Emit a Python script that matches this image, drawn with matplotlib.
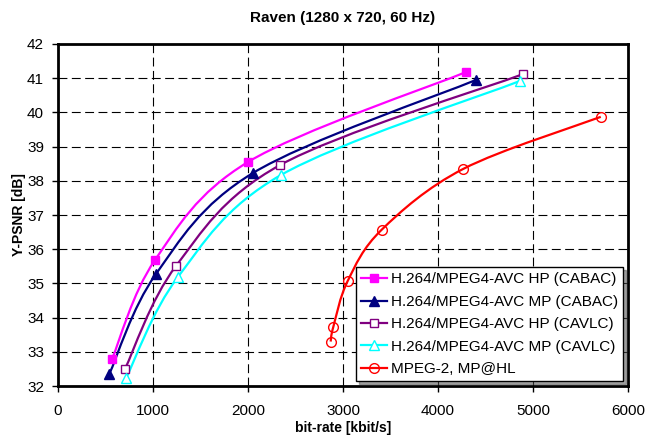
import matplotlib
matplotlib.use("Agg")
import matplotlib.pyplot as plt
from matplotlib.path import Path
from matplotlib.patches import PathPatch
from matplotlib.lines import Line2D

plt.rcParams['font.family'] = ['Liberation Sans', 'DejaVu Sans']

# rate-distortion points (bit-rate in kbit/s, Y-PSNR in dB)
hp_cabac_rate = [570, 1020, 2000, 4295]
hp_cabac_psnr = [32.8, 35.68, 38.55, 41.18]

mp_cabac_rate = [540, 1030, 2053, 4400]
mp_cabac_psnr = [32.35, 35.27, 38.23, 40.95]

hp_cavlc_rate = [705, 1242, 2337, 4895]
hp_cavlc_psnr = [32.5, 35.51, 38.46, 41.12]

mp_cavlc_rate = [716, 1263, 2347, 4863]
mp_cavlc_psnr = [32.23, 35.19, 38.17, 40.92]

mpeg2_rate = [2870, 2898, 3049, 3407, 4267, 5713]
mpeg2_psnr = [33.30, 33.73, 35.07, 36.57, 38.35, 39.87]

labels = ['H.264/MPEG4-AVC HP (CABAC)',
          'H.264/MPEG4-AVC MP (CABAC)',
          'H.264/MPEG4-AVC HP (CAVLC)',
          'H.264/MPEG4-AVC MP (CAVLC)',
          'MPEG-2, MP@HL']


# smooth line through the points like the spreadsheet does (Catmull-Rom as bezier)
def smooth_path(xs, ys):
    pts = list(zip(xs, ys))
    verts = [pts[0]]
    codes = [Path.MOVETO]
    n = len(pts)
    for i in range(n - 1):
        p0 = pts[i - 1] if i > 0 else pts[i]
        p1 = pts[i]
        p2 = pts[i + 1]
        p3 = pts[i + 2] if i + 2 < n else pts[i + 1]
        c1 = (p1[0] + (p2[0] - p0[0]) / 6, p1[1] + (p2[1] - p0[1]) / 6)
        c2 = (p2[0] - (p3[0] - p1[0]) / 6, p2[1] - (p3[1] - p1[1]) / 6)
        verts += [c1, c2, p2]
        codes += [Path.CURVE4] * 3
    return Path(verts, codes)


fig = plt.figure(figsize=(6.46, 4.40), dpi=100)
ax = fig.add_axes([0.0898, 0.1227, 0.8824, 0.7773])

series = [
    (hp_cabac_rate, hp_cabac_psnr, '#FF00FF', 's', '#FF00FF', 5.5),
    (mp_cabac_rate, mp_cabac_psnr, '#000080', '^', '#000080', 6.5),
    (hp_cavlc_rate, hp_cavlc_psnr, '#800080', 's', 'white', 5.5),
    (mp_cavlc_rate, mp_cavlc_psnr, '#00FFFF', '^', 'white', 6.5),
    (mpeg2_rate, mpeg2_psnr, '#FF0000', 'o', 'none', 7),
]

handles = []
for (x, y, col, mk, fc, ms), lab in zip(series, labels):
    ax.add_patch(PathPatch(smooth_path(x, y), facecolor='none', edgecolor=col,
                           lw=1.6, zorder=3))
    ax.plot(x, y, linestyle='none', marker=mk, markersize=ms, color=col,
            markerfacecolor=fc, markeredgewidth=1.0, zorder=4)
    handles.append(Line2D([], [], color=col, lw=1.6, marker=mk, markersize=ms,
                          markerfacecolor=fc, markeredgewidth=1.0))

ax.set_xlim(0, 6000)
ax.set_ylim(32, 42)
ax.set_xticks(range(0, 6001, 1000))
ax.set_yticks(range(32, 43))
ax.grid(True, color='black', linestyle=(0, (8, 4)), linewidth=0.8)
ax.set_axisbelow(True)
for s in ax.spines.values():
    s.set_linewidth(2)
ax.tick_params(direction='out', length=4, width=1, labelsize=11)
ax.tick_params(axis='x', pad=9)
ax.tick_params(axis='y', pad=6)

ax.set_title('Raven (1280 x 720, 60 Hz)', fontsize=11, fontweight='bold', pad=16)
ax.set_xlabel('bit-rate [kbit/s]', fontsize=10, fontweight='bold', labelpad=2)
ax.set_ylabel('Y-PSNR [dB]', fontsize=10, fontweight='bold', labelpad=1)

leg = ax.legend(handles, labels, loc='lower right', fontsize=11, frameon=True,
                fancybox=False, shadow=True, edgecolor='black', framealpha=1,
                handlelength=1.7, labelspacing=0.55, borderaxespad=0.3,
                handletextpad=0.25, borderpad=0.35)
leg.get_frame().set_linewidth(1)

fig.savefig('out.png', dpi=100)
